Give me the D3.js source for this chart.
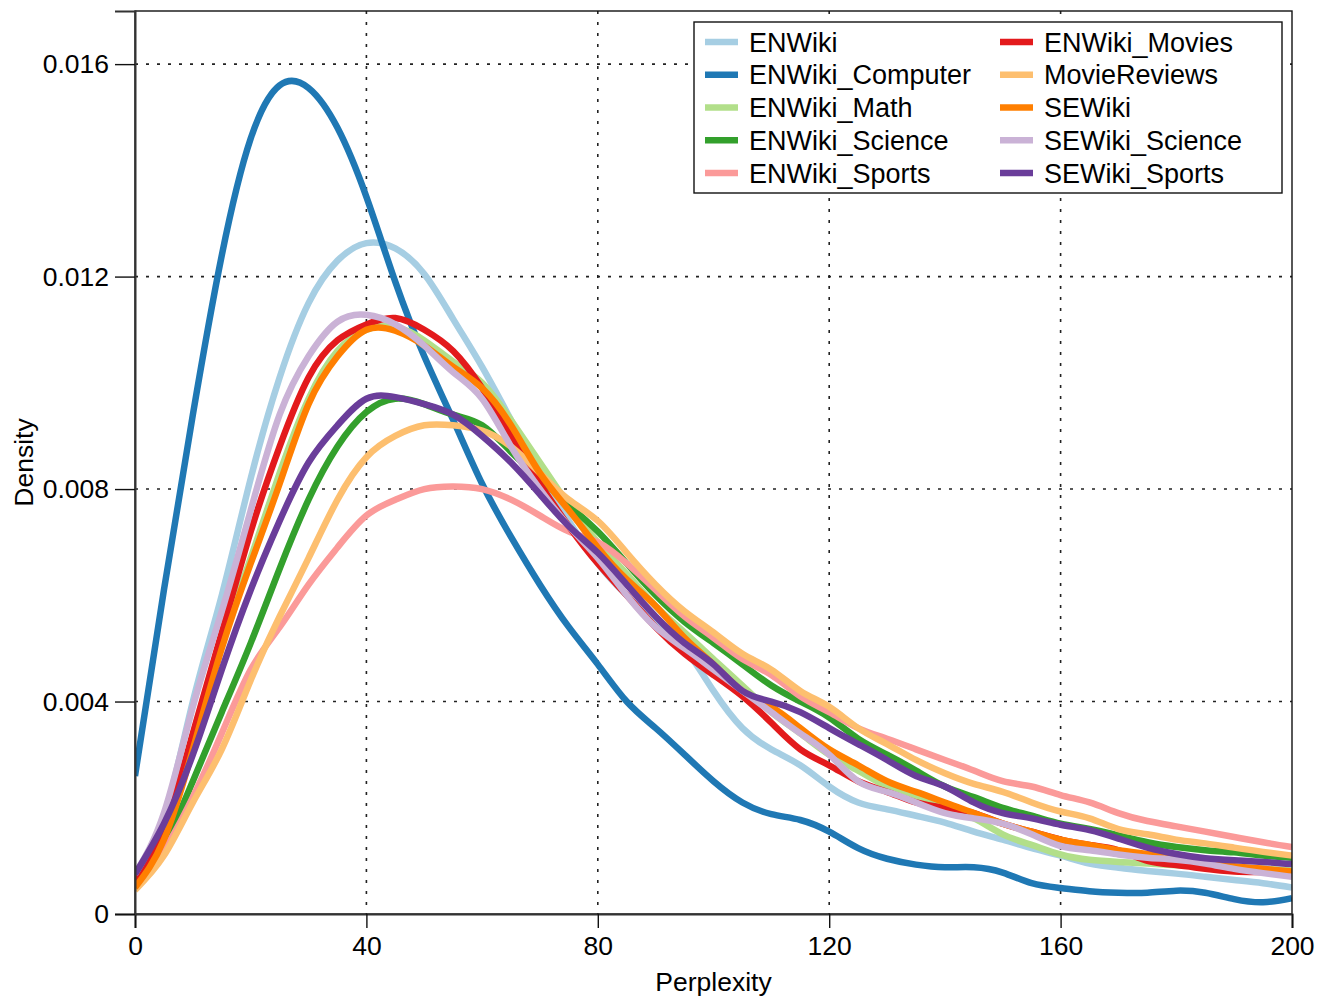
<!DOCTYPE html>
<html>
<head>
<meta charset="utf-8">
<script src="https://cdn.jsdelivr.net/npm/d3@7"></script>
<style>
  html, body { margin: 0; padding: 0; background: #fff; }
  svg { display: block; }
  text { font-family: "Liberation Sans", Arial, Helvetica, sans-serif; fill: #000; }
</style>
</head>
<body>
<svg id="chart" width="1319" height="996"></svg>
<script>
// ---------- data ----------
const perplexity = [0,5,10,15,20,25,30,35,40,45,50,55,60,65,70,75,80,85,90,95,100,
                    105,110,115,120,125,130,135,140,145,150,155,160,165,170,175,180,185,190,195,200];

const seriesNames = ["ENWiki","ENWiki_Computer","ENWiki_Math","ENWiki_Science","ENWiki_Sports",
                     "ENWiki_Movies","MovieReviews","SEWiki","SEWiki_Science","SEWiki_Sports"];

const enwiki = [0.0006,0.0018,0.0040,0.0060,0.0082,0.0101,0.0115,0.0123,0.01263,0.01253,0.01205,
  0.0112,0.0103,0.0093,0.0083,0.0074,0.0066,0.0060,0.0055,0.0050,0.0042,
  0.0035,0.0031,0.0028,0.0024,0.0021,0.00197,0.00185,0.00172,0.00155,0.0014,
  0.00124,0.0011,0.00095,0.00087,0.00081,0.00076,0.0007,0.00064,0.00058,0.0005];

const enwikiComputer = [0.0026,0.0061,0.0094,0.0124,0.0146,0.0156,0.01555,0.0148,0.0135,0.0119,0.0105,
  0.0093,0.0081,0.0071,0.0062,0.0054,0.0047,0.0040,0.0035,0.0030,0.0025,
  0.0021,0.00188,0.00177,0.00155,0.00124,0.00104,0.00093,0.00088,0.00088,0.00078,
  0.00058,0.00049,0.00043,0.0004,0.0004,0.00044,0.0004,0.00028,0.00022,0.0003];

const enwikiMath = [0.0005,0.0014,0.0032,0.0051,0.0067,0.0083,0.0097,0.0106,0.0110,0.01105,0.0108,
  0.0104,0.0100,0.0093,0.0085,0.0077,0.0070,0.0064,0.0058,0.0053,0.0048,
  0.0043,0.0038,0.0034,0.0030,0.0027,0.0024,0.0022,0.0020,0.0018,0.0015,
  0.0013,0.00112,0.00102,0.00098,0.00095,0.00092,0.0009,0.00088,0.00085,0.00082];

const enwikiScience = [0.0006,0.0013,0.0025,0.0038,0.0051,0.0065,0.0078,0.0088,0.00945,0.0097,0.0096,
  0.0094,0.0092,0.0087,0.0082,0.0077,0.0072,0.0066,0.0060,0.0055,0.0051,
  0.0047,0.0043,0.0040,0.0037,0.0033,0.0030,0.0027,0.0024,0.0022,0.0020,
  0.00185,0.0017,0.0016,0.00148,0.00135,0.00126,0.0012,0.00116,0.0011,0.00106];

const enwikiSports = [0.0005,0.0012,0.0022,0.0034,0.0046,0.0054,0.0062,0.0069,0.0075,0.0078,0.0080,
  0.00805,0.0080,0.0078,0.0075,0.0072,0.0070,0.0066,0.0061,0.0056,0.0052,
  0.0048,0.0045,0.0041,0.0038,0.0035,0.0033,0.0031,0.0029,0.0027,0.0025,
  0.0024,0.00224,0.0021,0.0019,0.00175,0.00165,0.00155,0.00145,0.00135,0.00126];

const enwikiMovies = [0.00064,0.0016,0.0034,0.0053,0.0072,0.0088,0.0101,0.0108,0.0111,0.01122,0.0110,
  0.0106,0.0099,0.0090,0.0081,0.0073,0.0066,0.0060,0.0054,0.0049,0.0045,
  0.0041,0.0036,0.0031,0.0028,0.0025,0.0023,0.0021,0.0020,0.0019,0.0017,
  0.00155,0.0014,0.0013,0.0012,0.001,0.00092,0.00085,0.0008,0.00079,0.00078];

const movieReviews = [0.00045,0.0011,0.0021,0.0031,0.0044,0.0056,0.0067,0.0078,0.0086,0.0090,0.0092,
  0.0092,0.0091,0.0088,0.0083,0.0078,0.0074,0.0068,0.0062,0.0057,0.0053,
  0.0049,0.0046,0.0042,0.0039,0.0035,0.0032,0.0029,0.00265,0.00245,0.0023,
  0.0021,0.00193,0.0018,0.0016,0.0015,0.0014,0.00133,0.00125,0.00117,0.0011];

const sewiki = [0.0005,0.0014,0.0031,0.0050,0.0066,0.0081,0.0096,0.0105,0.0110,0.01098,0.0107,
  0.0103,0.0099,0.0092,0.0083,0.0076,0.0069,0.0063,0.0058,0.0052,0.0047,
  0.0042,0.0039,0.0035,0.0031,0.0028,0.0025,0.0023,0.0021,0.0019,0.0017,
  0.00155,0.0014,0.0013,0.0012,0.00113,0.00105,0.00097,0.0009,0.00085,0.0008];

const sewikiScience = [0.00075,0.0019,0.0039,0.0057,0.0076,0.0094,0.0105,0.01115,0.01128,0.0111,0.0107,
  0.0102,0.0097,0.0088,0.0080,0.0073,0.0067,0.0060,0.0054,0.0050,0.0046,
  0.0042,0.0038,0.0034,0.0030,0.0025,0.0023,0.0021,0.0019,0.0018,0.0017,
  0.0015,0.00128,0.0012,0.00112,0.00106,0.00102,0.00095,0.00085,0.00077,0.0007];

const sewikiSports = [0.00075,0.0017,0.0030,0.0046,0.0061,0.0074,0.0085,0.0092,0.0097,0.00973,0.0096,
  0.0094,0.0090,0.0085,0.0079,0.0073,0.0068,0.0062,0.0056,0.0051,0.0047,
  0.0042,0.0040,0.0038,0.0035,0.0032,0.0029,0.0026,0.0024,0.0021,0.0019,
  0.0018,0.00168,0.00158,0.00142,0.00125,0.00113,0.00105,0.00101,0.00098,0.00094];

const seriesValues = [enwiki, enwikiComputer, enwikiMath, enwikiScience, enwikiSports,
                      enwikiMovies, movieReviews, sewiki, sewikiScience, sewikiSports];

const seriesColors = ["#a6cee3","#1f78b4","#b2df8a","#33a02c","#fb9a99",
                      "#e31a1c","#fdbf6f","#ff7f00","#cab2d6","#6a3d9a"];

const xTicks = [0,40,80,120,160,200];
const yTicks = [0,0.004,0.008,0.012,0.016];
const yTickLabels = ["0","0.004","0.008","0.012","0.016"];

// ---------- layout ----------
const L = 135, R = 1292, T = 11, B = 914;
const svg = d3.select("#chart");

const x = d3.scaleLinear().domain([0,200]).range([L,R]);
const y = d3.scaleLinear().domain([0,0.017]).range([B,T]);

svg.append("defs").append("clipPath").attr("id","plotclip")
  .append("rect").attr("x",L).attr("y",T).attr("width",R-L).attr("height",B-T);

// grid
const grid = svg.append("g");
grid.selectAll("line.vg").data(xTicks.slice(1,-1)).enter().append("line")
  .attr("x1",d=>x(d)).attr("x2",d=>x(d)).attr("y1",T).attr("y2",B)
  .attr("stroke","#222").attr("stroke-width",1.6).attr("stroke-dasharray","3,8");
grid.selectAll("line.hg").data(yTicks.slice(1)).enter().append("line")
  .attr("x1",L).attr("x2",R).attr("y1",d=>y(d)).attr("y2",d=>y(d))
  .attr("stroke","#222").attr("stroke-width",1.6).attr("stroke-dasharray","3,8");

// lines
const line = d3.line()
  .x(d=>x(d[0])).y(d=>y(d[1]))
  .curve(d3.curveNatural);

const lines = svg.append("g").attr("clip-path","url(#plotclip)");
seriesValues.forEach((vals,i)=>{
  const pts = perplexity.map((p,j)=>[p, vals[j]]);
  lines.append("path").datum(pts)
    .attr("d", line)
    .attr("fill","none")
    .attr("stroke", seriesColors[i])
    .attr("stroke-width", 6.5)
    .attr("stroke-linejoin","round")
    .attr("stroke-linecap","butt");
});

// frame
svg.append("rect").attr("x",L).attr("y",T).attr("width",R-L).attr("height",B-T)
  .attr("fill","none").attr("stroke","#111").attr("stroke-width",1.4);

// axes
const xAxis = d3.axisBottom(x).tickValues(xTicks).tickSize(14).tickPadding(8)
  .tickFormat(d3.format("d"));
const gx = svg.append("g").attr("transform",`translate(0,${B})`).call(xAxis);
gx.select(".domain").attr("stroke","#333").attr("stroke-width",2);
gx.selectAll(".tick line").attr("stroke","#111").attr("stroke-width",1.4);
gx.selectAll(".tick text").attr("font-size",26.5)
  .attr("font-family",'"Liberation Sans", Arial, sans-serif').attr("fill","#000");

const yAxis = d3.axisLeft(y).tickValues(yTicks).tickSize(20).tickPadding(6)
  .tickFormat((d,i)=>yTickLabels[i]);
const gy = svg.append("g").attr("transform",`translate(${L},0)`).call(yAxis);
gy.select(".domain").attr("stroke","#333").attr("stroke-width",2);
gy.selectAll(".tick line").attr("stroke","#111").attr("stroke-width",1.4);
gy.selectAll(".tick text").attr("font-size",26.5)
  .attr("font-family",'"Liberation Sans", Arial, sans-serif').attr("fill","#000");

// axis titles
svg.append("text").attr("x",(L+R)/2).attr("y",991)
  .attr("text-anchor","middle").attr("font-size",26.5).text("Perplexity");
svg.append("text").attr("transform",`translate(33,${(T+B)/2}) rotate(-90)`)
  .attr("text-anchor","middle").attr("font-size",26.5).text("Density");

// legend
const lg = svg.append("g");
lg.append("rect").attr("x",694).attr("y",22).attr("width",588).attr("height",171)
  .attr("fill","#fff").attr("stroke","#111").attr("stroke-width",1.4);
const rowY = d3.scaleLinear().domain([0,4]).range([42,173]);
seriesNames.forEach((name,i)=>{
  const col = Math.floor(i/5), row = i%5;
  const x0 = col===0 ? 705 : 1000;
  const yy = rowY(row);
  lg.append("line").attr("x1",x0).attr("x2",x0+33).attr("y1",yy).attr("y2",yy)
    .attr("stroke",seriesColors[i]).attr("stroke-width",6.5);
  lg.append("text").attr("x",x0+44).attr("y",yy).attr("dy","0.36em")
    .attr("font-size",27).text(name);
});
</script>
</body>
</html>
